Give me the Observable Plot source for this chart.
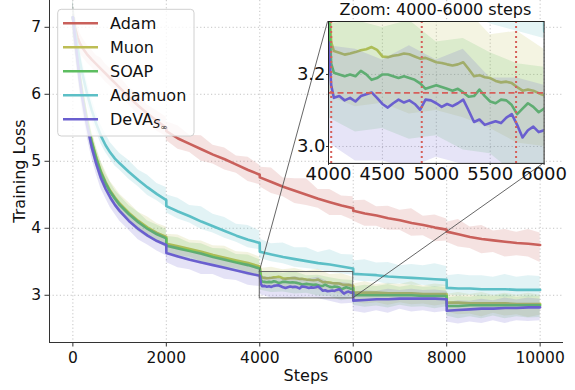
<!DOCTYPE html>
<html><head><meta charset="utf-8">
<script src="https://cdn.jsdelivr.net/npm/d3@7"></script>
<script src="https://cdn.jsdelivr.net/npm/@observablehq/plot@0.6"></script>
<style>
body{margin:0;background:#fff;font-family:"DejaVu Sans",sans-serif;}
#wrap{position:relative;width:575px;height:390px;overflow:hidden;background:#fff;}
#wrap svg{position:absolute;overflow:visible;}
</style></head>
<body><div id="wrap"></div>
<script>
// ---------- data ----------
const seriesNames = ["Adam", "Muon", "SOAP", "Adamuon", "DeVA"];
const seriesColors = ["#c9605b", "#bdbd55", "#5dbd60", "#5cbfc6", "#6a5fcf"];

const steps = [0,50,100,150,200,300,400,500,600,700,800,900,1000,
  1200,1400,1600,1800,1999,
  2001,2250,2500,2750,3000,3250,3500,3750,3999,
  4001,4250,4500,4750,5000,5250,5500,5750,5999,
  6001,6250,6500,6750,7000,7250,7500,7750,7999,
  8001,8250,8500,8750,9000,9250,9500,9750,10000];

const adamLoss = [7.15,6.98,6.85,6.76,6.70,6.60,6.52,6.45,6.38,6.31,6.24,6.17,6.10,
  5.96,5.83,5.71,5.60,5.50,
  5.45,5.34,5.26,5.18,5.10,5.03,4.95,4.87,4.80,
  4.76,4.69,4.62,4.56,4.50,4.44,4.39,4.34,4.30,
  4.26,4.22,4.19,4.15,4.12,4.08,4.05,4.01,3.98,
  3.95,3.91,3.87,3.84,3.82,3.80,3.78,3.77,3.75];
const muonLoss = [7.15,6.85,6.55,6.26,6.02,5.63,5.31,5.06,4.85,4.69,4.56,4.46,4.37,
  4.23,4.11,4.01,3.93,3.87,
  3.77,3.73,3.69,3.65,3.60,3.56,3.52,3.48,3.43,
  3.27,3.26,3.26,3.25,3.23,3.23,3.19,3.17,3.14,
  3.04,3.04,3.04,3.03,3.03,3.03,3.02,3.02,3.02,
  2.89,2.89,2.88,2.88,2.88,2.88,2.87,2.87,2.87];
const soapLoss = [7.15,6.84,6.53,6.24,6.00,5.61,5.29,5.04,4.83,4.67,4.54,4.44,4.35,
  4.21,4.09,3.99,3.91,3.85,
  3.74,3.70,3.66,3.62,3.57,3.53,3.49,3.45,3.40,
  3.22,3.20,3.20,3.19,3.17,3.15,3.13,3.09,3.10,
  3.00,3.00,3.00,3.00,3.00,3.00,2.99,2.99,2.99,
  2.84,2.84,2.85,2.85,2.85,2.85,2.85,2.85,2.85];
const adamuonLoss = [7.15,6.92,6.70,6.50,6.32,6.02,5.77,5.56,5.38,5.24,5.13,5.04,4.97,
  4.84,4.72,4.61,4.51,4.42,
  4.33,4.25,4.18,4.10,4.03,3.96,3.89,3.83,3.78,
  3.65,3.61,3.57,3.54,3.51,3.48,3.46,3.43,3.40,
  3.32,3.31,3.30,3.28,3.27,3.26,3.25,3.24,3.23,
  3.11,3.10,3.10,3.09,3.09,3.09,3.08,3.08,3.08];
const devaLoss = [7.15,6.82,6.50,6.20,5.95,5.55,5.22,4.96,4.75,4.59,4.46,4.35,4.26,
  4.11,3.99,3.89,3.81,3.75,
  3.63,3.58,3.53,3.49,3.45,3.41,3.37,3.33,3.29,
  3.16,3.13,3.12,3.13,3.12,3.13,3.07,3.06,3.05,
  2.92,2.93,2.94,2.94,2.95,2.95,2.95,2.95,2.94,
  2.77,2.78,2.79,2.80,2.80,2.81,2.81,2.82,2.82];

// spread of the raw (unsmoothed) loss above / below each smoothed curve
const adamUp = [0.22,0.2,0.18,0.16,0.15,0.14,0.15,0.13,0.16,0.14,0.15,0.13,0.16,
  0.14,0.17,0.13,0.15,0.16,
  0.14,0.19,0.13,0.2,0.14,0.17,0.13,0.19,0.14,
  0.15,0.21,0.13,0.18,0.24,0.14,0.19,0.14,0.17,
  0.15,0.2,0.13,0.18,0.15,0.21,0.13,0.19,0.16,
  0.14,0.22,0.15,0.2,0.14,0.18,0.16,0.21,0.18];
const adamDown = [0.22,0.2,0.17,0.15,0.14,0.13,0.12,0.14,0.12,0.13,0.12,0.14,0.13,
  0.12,0.14,0.12,0.15,0.13,
  0.14,0.16,0.13,0.18,0.14,0.16,0.13,0.17,0.15,
  0.14,0.17,0.15,0.19,0.16,0.14,0.2,0.15,0.18,
  0.15,0.19,0.16,0.18,0.15,0.2,0.16,0.21,0.17,
  0.16,0.19,0.17,0.22,0.18,0.23,0.19,0.2,0.26];
const muonUp = [0.25,0.25,0.24,0.22,0.2,0.18,0.17,0.16,0.15,0.16,0.14,0.15,0.14,
  0.15,0.13,0.16,0.14,0.15,
  0.14,0.17,0.13,0.16,0.14,0.17,0.13,0.16,0.14,
  0.13,0.16,0.12,0.15,0.13,0.16,0.12,0.15,0.13,
  0.13,0.16,0.12,0.15,0.13,0.17,0.12,0.15,0.13,
  0.12,0.15,0.13,0.16,0.12,0.15,0.13,0.16,0.13];
const muonDown = [0.25,0.24,0.22,0.2,0.18,0.16,0.15,0.14,0.13,0.14,0.12,0.13,0.12,
  0.13,0.12,0.14,0.12,0.13,
  0.12,0.14,0.12,0.15,0.13,0.14,0.12,0.15,0.13,
  0.13,0.15,0.14,0.16,0.13,0.15,0.14,0.16,0.14,
  0.14,0.17,0.15,0.18,0.14,0.17,0.15,0.18,0.15,
  0.14,0.18,0.16,0.2,0.15,0.19,0.16,0.2,0.17];
const soapUp = [0.25,0.24,0.23,0.21,0.2,0.18,0.16,0.15,0.16,0.14,0.15,0.13,0.14,
  0.13,0.15,0.12,0.14,0.13,
  0.14,0.16,0.12,0.15,0.13,0.16,0.12,0.15,0.13,
  0.12,0.15,0.13,0.16,0.12,0.15,0.13,0.14,0.12,
  0.12,0.15,0.13,0.16,0.12,0.15,0.13,0.14,0.12,
  0.12,0.14,0.12,0.15,0.13,0.16,0.12,0.14,0.13];
const soapDown = [0.25,0.23,0.21,0.19,0.17,0.15,0.14,0.13,0.14,0.12,0.13,0.12,0.13,
  0.12,0.14,0.13,0.12,0.14,
  0.13,0.15,0.13,0.16,0.12,0.15,0.14,0.16,0.13,
  0.14,0.16,0.15,0.17,0.14,0.16,0.15,0.17,0.15,
  0.15,0.18,0.16,0.19,0.15,0.18,0.16,0.19,0.16,
  0.15,0.19,0.17,0.2,0.16,0.2,0.17,0.19,0.18];
const adamuonUp = [0.25,0.25,0.24,0.22,0.2,0.19,0.18,0.17,0.16,0.17,0.15,0.16,0.15,
  0.17,0.15,0.18,0.16,0.19,
  0.17,0.2,0.16,0.22,0.18,0.2,0.17,0.21,0.18,
  0.19,0.16,0.21,0.17,0.2,0.16,0.22,0.18,0.2,
  0.19,0.22,0.18,0.21,0.17,0.2,0.19,0.23,0.2,
  0.18,0.21,0.19,0.2,0.18,0.22,0.19,0.21,0.2];
const adamuonDown = [0.25,0.24,0.22,0.2,0.18,0.16,0.14,0.12,0.12,0.11,0.1,0.11,0.1,
  0.11,0.1,0.12,0.1,0.11,
  0.1,0.11,0.1,0.12,0.1,0.11,0.1,0.12,0.1,
  0.1,0.11,0.1,0.12,0.11,0.1,0.12,0.11,0.1,
  0.1,0.11,0.1,0.12,0.1,0.11,0.1,0.12,0.1,
  0.1,0.11,0.1,0.11,0.1,0.12,0.1,0.11,0.1];
const devaUp = [0.25,0.24,0.22,0.2,0.19,0.17,0.15,0.14,0.13,0.14,0.12,0.13,0.12,
  0.12,0.13,0.11,0.13,0.12,
  0.13,0.14,0.12,0.15,0.12,0.14,0.11,0.14,0.12,
  0.12,0.14,0.12,0.15,0.12,0.14,0.12,0.13,0.12,
  0.12,0.14,0.12,0.15,0.12,0.14,0.12,0.13,0.12,
  0.12,0.14,0.12,0.14,0.12,0.15,0.12,0.14,0.12];
const devaDown = [0.25,0.24,0.22,0.2,0.19,0.17,0.16,0.15,0.16,0.14,0.15,0.14,0.15,
  0.14,0.16,0.14,0.15,0.16,
  0.14,0.17,0.15,0.18,0.14,0.17,0.15,0.18,0.16,
  0.15,0.17,0.16,0.19,0.15,0.18,0.16,0.19,0.17,
  0.16,0.2,0.17,0.21,0.16,0.2,0.18,0.21,0.18,
  0.17,0.21,0.19,0.22,0.18,0.23,0.19,0.21,0.2];

// finer read-out of the zoomed window 4000-6000
const insetSteps = [4000,4025,4050,4100,4150,4200,4250,4300,4350,4400,4450,4500,4550,4600,4650,4700,4750,4800,4850,4900,4950,
  5000,5050,5100,5150,5200,5250,5300,5350,5400,5450,5500,5550,5600,5650,5700,5750,5800,5850,5900,5950,6000];
const muonFine = [3.43,3.29,3.265,3.26,3.255,3.258,3.262,3.267,3.27,3.276,3.268,3.25,3.248,3.252,3.254,3.258,3.256,3.25,3.244,3.246,3.24,
  3.234,3.232,3.228,3.225,3.228,3.234,3.215,3.195,3.198,3.192,3.19,3.182,3.178,3.18,3.176,3.165,3.155,3.158,3.155,3.148,3.142];
const soapFine = [3.40,3.23,3.205,3.2,3.195,3.2,3.195,3.21,3.2,3.185,3.19,3.2,3.2,3.195,3.19,3.195,3.19,3.185,3.175,3.16,3.165,
  3.17,3.165,3.16,3.155,3.16,3.15,3.138,3.14,3.158,3.14,3.125,3.12,3.13,3.128,3.115,3.09,3.105,3.12,3.11,3.095,3.105];
const devaFine = [3.29,3.17,3.135,3.14,3.128,3.135,3.125,3.14,3.145,3.15,3.135,3.118,3.108,3.12,3.13,3.122,3.128,3.118,3.102,3.13,3.128,
  3.12,3.11,3.118,3.112,3.12,3.13,3.1,3.068,3.075,3.06,3.065,3.07,3.065,3.08,3.09,3.06,3.025,3.045,3.055,3.04,3.045];

const xTicks = [0, 2000, 4000, 6000, 8000, 10000];
const yTicks = [3, 4, 5, 6, 7];
const insetXTicks = [4000, 4500, 5000, 5500, 6000];
const insetYTicks = [3.0, 3.2];
const zoomX = [4000, 6000];
const zoomY = [2.953, 3.347];
const insetHLine = [3.149];
const insetVLines = [4025, 4865, 5740];

// ---------- layout ----------
const W = 575, H = 390;
const mL = 49, mR = 12, mT = 0, mB = 48;
const xDomain = [-500, 10500];
const yDomain = [2.295, 7.4];
// inset placement as fractions of the main axes box
const insetFrac = {left: 0.542, bottom: 0.523, width: 0.4195, height: 0.415};
const axW = W - mL - mR, axH = H - mT - mB;
const inL = mL + insetFrac.left * axW;
const inW = insetFrac.width * axW;
const inB = mT + axH - insetFrac.bottom * axH;
const inH = insetFrac.height * axH;
const inT = inB - inH;

const lossBy = {Adam: adamLoss, Muon: muonLoss, SOAP: soapLoss, Adamuon: adamuonLoss, DeVA: devaLoss};
const upBy = {Adam: adamUp, Muon: muonUp, SOAP: soapUp, Adamuon: adamuonUp, DeVA: devaUp};
const downBy = {Adam: adamDown, Muon: muonDown, SOAP: soapDown, Adamuon: adamuonDown, DeVA: devaDown};
const fineBy = {Muon: muonFine, SOAP: soapFine, DeVA: devaFine};

function bandRows(name) {
  return steps.map((s, i) => ({step: s, lo: lossBy[name][i] - downBy[name][i], hi: lossBy[name][i] + upBy[name][i]}));
}
function mainLineRows(name) {
  const rows = [];
  steps.forEach((s, i) => {
    if (!fineBy[name] || s < zoomX[0] || s > zoomX[1]) rows.push({step: s, loss: lossBy[name][i]});
  });
  if (fineBy[name]) insetSteps.forEach((s, i) => rows.push({step: s, loss: fineBy[name][i]}));
  return rows.sort((a, b) => a.step - b.step);
}
function insetLineRows(name) {
  if (fineBy[name]) return insetSteps.map((s, i) => ({step: s, loss: fineBy[name][i]}));
  return steps.map((s, i) => ({step: s, loss: lossBy[name][i]}));
}

const gridStyle = {stroke: "#b5b5b5", strokeOpacity: 1, strokeWidth: 0.8, strokeDasharray: "1.2,2.4"};

const seriesMarks = [];
seriesNames.forEach((name, k) => {
  seriesMarks.push(Plot.areaY(bandRows(name), {x: "step", y1: "lo", y2: "hi", fill: seriesColors[k], fillOpacity: 0.18, curve: "linear"}));
  seriesMarks.push(Plot.line(mainLineRows(name), {x: "step", y: "loss", stroke: seriesColors[k], strokeWidth: 2.6}));
});

const main = Plot.plot({
  width: W, height: H,
  marginLeft: mL, marginRight: mR, marginTop: mT, marginBottom: mB,
  x: {domain: xDomain},
  y: {domain: yDomain},
  style: {fontFamily: "DejaVu Sans", fontSize: "15.5px", background: "transparent", color: "#111", overflow: "visible"},
  marks: [
    Plot.gridX(xTicks, gridStyle),
    Plot.gridY(yTicks, gridStyle),
    ...seriesMarks,
    Plot.rect([{x1: zoomX[0], x2: zoomX[1], y1: zoomY[0], y2: zoomY[1]}], {x1: "x1", x2: "x2", y1: "y1", y2: "y2", fill: "none", stroke: "#666", strokeWidth: 1}),
    Plot.ruleX([xDomain[0]], {stroke: "#333", strokeWidth: 1}),
    Plot.ruleY([yDomain[0]], {stroke: "#333", strokeWidth: 1}),
    Plot.axisX({ticks: xTicks, tickSize: 4.5, tickPadding: 4.5, tickFormat: d3.format("d"), label: null, stroke: "#333"}),
    Plot.axisY({ticks: yTicks, tickSize: 4.5, tickPadding: 4, tickFormat: d3.format("d"), label: null, stroke: "#333"})
  ]
});
main.style.left = "0px"; main.style.top = "0px";
const wrap = document.getElementById("wrap");
wrap.appendChild(main);

// connector lines from the zoom box to the inset
const sx = main.scale("x"), sy = main.scale("y");
const cg = d3.select(main).append("g").attr("stroke", "#555").attr("stroke-width", 0.9);
cg.append("line").attr("x1", sx.apply(zoomX[0])).attr("y1", sy.apply(zoomY[1])).attr("x2", inL).attr("y2", inT);
cg.append("line").attr("x1", sx.apply(zoomX[1])).attr("y1", sy.apply(zoomY[0])).attr("x2", inL + inW).attr("y2", inB);

// ---------- inset ----------
const iL = 40, iR = 20, iT = 4, iB = 24;
const insetMarks = [Plot.frame({fill: "white"}), Plot.gridX(insetXTicks, gridStyle), Plot.gridY(insetYTicks, gridStyle)];
seriesNames.forEach((name, k) => {
  insetMarks.push(Plot.areaY(bandRows(name), {x: "step", y1: "lo", y2: "hi", fill: seriesColors[k], fillOpacity: 0.17, clip: true}));
  insetMarks.push(Plot.line(insetLineRows(name), {x: "step", y: "loss", stroke: seriesColors[k], strokeWidth: 2.6, clip: true}));
});
insetMarks.push(
  Plot.ruleY(insetHLine, {stroke: "#d65f5a", strokeWidth: 1.8, strokeDasharray: "6,3.5"}),
  Plot.ruleX(insetVLines, {stroke: "#d65f5a", strokeWidth: 2, strokeDasharray: "2,3"}),
  Plot.frame({stroke: "#222", strokeWidth: 1}),
  Plot.axisX({ticks: insetXTicks, tickSize: 2, tickPadding: 1.5, tickFormat: d3.format("d"), label: null, stroke: "#333"}),
  Plot.axisY({ticks: insetYTicks, tickSize: 2, tickPadding: 1, tickFormat: d3.format(".1f"), label: null, stroke: "#333"})
);
const inset = Plot.plot({
  width: inW + iL + iR, height: inH + iT + iB,
  marginLeft: iL, marginRight: iR, marginTop: iT, marginBottom: iB,
  x: {domain: zoomX},
  y: {domain: zoomY},
  style: {fontFamily: "DejaVu Sans", fontSize: "18px", background: "transparent", color: "#111", overflow: "visible"},
  marks: insetMarks
});
inset.style.left = (inL - iL) + "px";
inset.style.top = (inT - iT) + "px";
wrap.appendChild(inset);

// ---------- overlay: labels, title, legend ----------
const ov = d3.create("svg").attr("width", W).attr("height", H)
  .style("left", "0px").style("top", "0px")
  .attr("font-family", "DejaVu Sans").attr("fill", "#111");
ov.append("text").attr("x", mL + axW / 2).attr("y", 381).attr("text-anchor", "middle").attr("font-size", 16).text("Steps");
ov.append("text").attr("transform", `translate(24.5,${mT + axH / 2}) rotate(-90)`).attr("text-anchor", "middle").attr("font-size", 16).text("Training Loss");
ov.append("text").attr("x", inL + inW / 2).attr("y", 14.7).attr("text-anchor", "middle").attr("font-size", 16).text("Zoom: 4000-6000 steps");

const lg = ov.append("g");
lg.append("rect").attr("x", 57.7).attr("y", 9.3).attr("width", 136.3).attr("height", 126.7).attr("rx", 3.5)
  .attr("fill", "white").attr("fill-opacity", 0.8).attr("stroke", "#d0d0d0").attr("stroke-width", 1);
seriesNames.forEach((name, i) => {
  const cy = 23.3 + 24 * i;
  lg.append("line").attr("x1", 63).attr("x2", 98).attr("y1", cy).attr("y2", cy)
    .attr("stroke", seriesColors[i]).attr("stroke-width", 2.5);
  const t = lg.append("text").attr("x", 110).attr("y", cy + 5.8).attr("font-size", 16);
  if (name === "DeVA") {
    t.append("tspan").text("DeVA");
    t.append("tspan").attr("font-style", "italic").attr("font-size", 11.5).attr("dy", 2.5).text("S");
    t.append("tspan").attr("font-size", 8.5).attr("dy", 2).text("∞");
  } else {
    t.text(name);
  }
});
wrap.appendChild(ov.node());
</script>
</body></html>
